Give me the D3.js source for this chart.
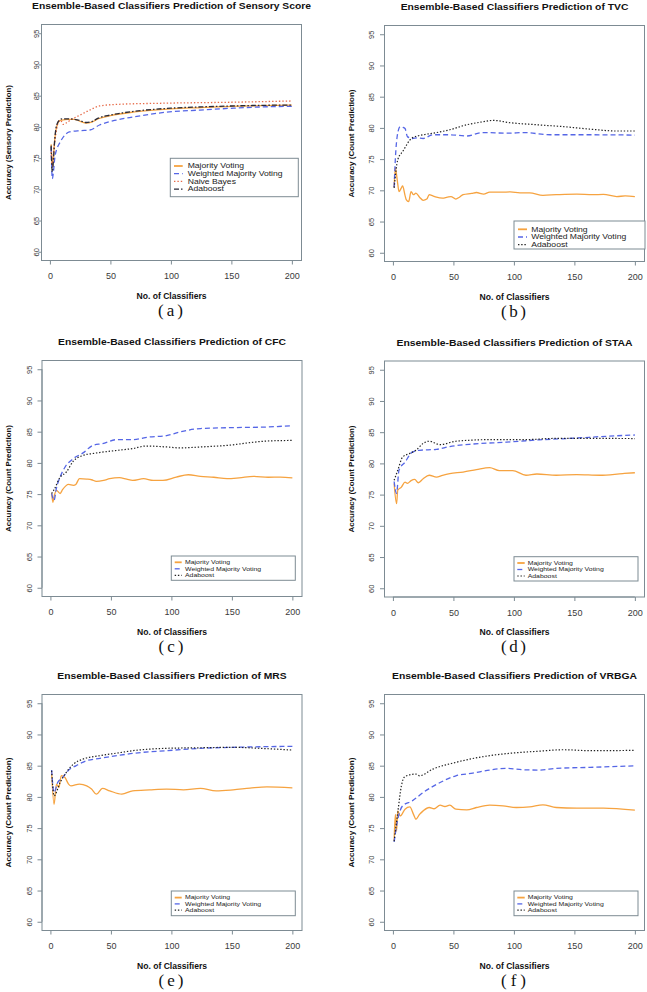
<!DOCTYPE html>
<html><head><meta charset="utf-8">
<script src="https://cdn.jsdelivr.net/npm/d3@7"></script>
<style>body{margin:0;background:#fff}svg{display:block}</style>
</head><body>
<svg id="c" width="647" height="992"></svg>
<script>
// ---------- data ----------
const xTicks = [0, 50, 100, 150, 200];
const yTicks = [60, 65, 70, 75, 80, 85, 90, 95];
const xRange = [1, 200];
const yRange = [60, 95];

const titles = [
  "Ensemble-Based Classifiers Prediction of Sensory Score",
  "Ensemble-Based Classifiers Prediction of TVC",
  "Ensemble-Based Classifiers Prediction of CFC",
  "Ensemble-Based Classifiers Prediction of STAA",
  "Ensemble-Based Classifiers Prediction of MRS",
  "Ensemble-Based Classifiers Prediction of VRBGA"
];
const yLabels = [
  "Accuracy (Sensory Prediction)", "Accuracy (Count Prediction)", "Accuracy (Count Prediction)",
  "Accuracy (Count Prediction)", "Accuracy (Count Prediction)", "Accuracy (Count Prediction)"
];
const xLabel = "No. of Classifiers";
const captions = ["(a)", "(b)", "(c)", "(d)", "(e)", "(f)"];
const legend4 = ["Majority Voting", "Weighted Majority Voting", "Naive Bayes", "Adaboost"];
const legend3 = ["Majority Voting", "Weighted Majority Voting", "Adaboost"];

// (a) Sensory Score
const a_MV  = [[1,77.2],[2,73.5],[3,75.5],[4,78],[5,79.5],[6,80.3],[8,81],[10,81.1],[15,81.2],[20,81.2],[25,80.9],[30,80.6],[35,80.8],[40,81.3],[50,81.8],[70,82.4],[100,82.9],[125,83.1],[150,83.3],[175,83.4],[200,83.5]];
const a_WMV = [[1,76.8],[2,71.7],[3,73],[4,75],[6,76.6],[8,77.4],[12,78.6],[16,79.2],[25,79.4],[33,79.5],[41,80.3],[55,81.1],[69,81.6],[96,82.35],[124,82.7],[152,83.0],[175,83.2],[200,83.3]];
const a_NB  = [[1,76],[2,73.8],[3,76],[5,79],[7,80.8],[9,81],[11,80.4],[14,80.7],[17,81.1],[25,81.9],[33,82.7],[41,83.35],[55,83.6],[96,83.8],[150,83.95],[200,84.15]];
const a_AB  = [[1,77.0],[2,72.8],[3,75],[4,78],[5,79.8],[6,80.5],[8,81.1],[10,81.3],[15,81.3],[20,81.2],[25,81.0],[30,80.7],[35,80.9],[40,81.4],[50,81.9],[70,82.5],[100,83.0],[125,83.2],[150,83.35],[175,83.45],[200,83.5]];
// (b) TVC
const b_MV  = [[1,70.5],[2,73.6],[3,72.5],[4,71],[5,69.8],[7,70.4],[8,70.7],[10,69.2],[11,68.5],[13,68.2],[15,69.8],[17,69.3],[19,69.55],[22,68.9],[25,68.4],[28,68.6],[30,69.3],[33,69.1],[36,68.9],[41,68.75],[45,68.9],[48,69.0],[52,68.6],[55,68.9],[58,69.3],[65,69.5],[69,69.65],[75,69.4],[80,69.7],[90,69.7],[97,69.75],[105,69.6],[113,69.6],[124,69.2],[135,69.3],[152,69.4],[165,69.3],[174,69.35],[185,69.0],[192,69.1],[200,69.0]];
const b_WMV = [[1,70.5],[2,75],[4,79.2],[6,80.2],[8,80.1],[10,79.9],[12,78.6],[16,78.3],[20,78.4],[25,78.3],[33,78.9],[47,78.9],[61,78.7],[74,79.25],[96,79.15],[108,79.25],[130,78.9],[163,78.9],[200,78.85]];
const b_AB  = [[1,70.4],[4,74.9],[8,76.2],[16,78.4],[25,78.9],[33,79.15],[47,79.7],[61,80.5],[72,80.9],[83,81.2],[96,80.85],[119,80.5],[141,80.2],[163,79.8],[185,79.5],[200,79.5]];
// (c) CFC
const c_MV  = [[1,75.1],[2,73.7],[3,74.6],[5,75.6],[8,75.1],[10,75.7],[15,76.55],[19,76.4],[21,76.55],[24,77.47],[30,77.4],[34,77.3],[38,77.04],[44,77.2],[49,77.47],[57,77.63],[63,77.4],[68,77.2],[77,77.47],[85,77.2],[93,77.2],[104,77.73],[114,78.1],[124,77.85],[135,77.7],[146,77.47],[156,77.6],[168,77.85],[180,77.7],[190,77.73],[200,77.6]];
const c_WMV = [[1,75.07],[3,74.0],[5,76],[8,77.73],[12,79.3],[19,80.7],[27,81.6],[35,82.8],[43,83.1],[55,83.73],[68,83.73],[82,84.15],[96,84.37],[107,84.95],[124,85.5],[151,85.65],[179,85.75],[200,85.97]];
const c_AB  = [[1,75.1],[3,75.7],[8,77.7],[13,78.5],[19,80.3],[27,81.2],[35,81.5],[55,82.0],[68,82.3],[79,82.7],[96,82.55],[107,82.4],[124,82.55],[151,82.9],[165,83.25],[179,83.5],[200,83.6]];
// (d) STAA
const d_MV  = [[1,76.8],[3,73.55],[4,75.7],[7,76.2],[10,77.0],[12,76.8],[15,77.25],[18,77.45],[21,76.9],[25,77.55],[30,78.1],[36,77.8],[41,78.1],[47,78.37],[58,78.6],[69,79.0],[80,79.33],[88,78.85],[99,78.85],[110,78.1],[119,78.3],[135,78.1],[152,78.2],[171,78.1],[190,78.37],[200,78.5]];
const d_WMV = [[1,77.1],[3,75.2],[5,78.9],[10,80.2],[16,81.8],[22,82.1],[36,82.25],[47,82.7],[66,83.1],[94,83.4],[121,83.77],[149,84.03],[177,84.35],[200,84.55]];
const d_AB  = [[1,77.3],[4,78.9],[8,81.0],[14,81.6],[19,82.1],[25,83.2],[30,83.55],[39,83.0],[52,83.55],[80,83.8],[108,83.8],[135,84.0],[163,84.0],[200,83.98]];
// (e) MRS
const e_MV  = [[1,83.9],[3,78.8],[5,82.05],[7,81.5],[9,83.4],[12,83.1],[15,82.05],[17,81.77],[24,82.05],[30,81.77],[34,81.25],[38,80.44],[43,81.36],[49,80.97],[59,80.44],[68,80.97],[82,81.13],[96,81.25],[110,81.13],[124,81.36],[137,80.97],[151,81.13],[165,81.4],[179,81.6],[200,81.45]];
const e_WMV = [[1,84.3],[3,80.7],[6,82.3],[10,83.1],[16,84.45],[21,84.98],[30,85.8],[41,86.17],[55,86.6],[68,86.97],[96,87.4],[124,87.78],[151,87.94],[200,88.1]];
const e_AB  = [[1,84.2],[3,80.17],[8,82.3],[13,83.9],[19,85.25],[27,86.06],[41,86.6],[55,87.02],[68,87.4],[96,87.78],[124,87.87],[151,87.94],[173,87.78],[200,87.5]];
// (f) VRBGA
const f_MV  = [[1,73],[2,77.2],[3,74.5],[4,77.76],[6,76.95],[10,78.03],[14,78.4],[17,77.2],[19,76.42],[22,77.2],[25,77.76],[30,78.3],[34,78.1],[39,78.67],[43,78.46],[47,78.67],[52,78.03],[61,77.92],[69,78.3],[80,78.67],[91,78.56],[102,78.3],[113,78.4],[124,78.73],[135,78.3],[152,78.2],[174,78.2],[200,77.87]];
const f_WMV = [[1,72.8],[4,76.4],[8,78.56],[16,79.36],[25,80.7],[39,82.3],[52,83.38],[66,83.8],[80,84.3],[94,84.57],[108,84.34],[121,84.3],[135,84.57],[163,84.73],[200,84.98]];
const f_AB  = [[1,72.9],[4,77.5],[7,81.77],[10,83.28],[19,83.65],[22,83.38],[33,84.45],[52,85.53],[74,86.43],[96,86.97],[119,87.3],[141,87.55],[163,87.4],[200,87.45]];

// ---------- styles ----------
const styles = {
  MV:  {color:"#f6a340", dash:null, w:1.3},
  WMV: {color:"#5566e6", dash:"5,3", w:1.3},
  NB:  {color:"#e66a48", dash:"1.4,2", w:1.3},
  AB:  {color:"#222222", dash:"1.4,1.8", w:1.2},
  AB4: {color:"#2a2a38", dash:"5,2,1.5,2", w:1.3}
};

const panels = [
  {left:41.5, top:24.5, ytOff:3, tk:3, tLen:279, yLen:115, series:[["MV",a_MV],["WMV",a_WMV],["NB",a_NB],["AB4",a_AB]], labels:legend4,
   leg:{dx:128.8, dy:133.8, w:128, h:38.4, r0:7.7, step:7.7, s0:3.7, s1:12.4, tx:17.4, fs:8.6}},
  {left:384.5, top:25.5, ytOff:10.5, tk:4.5, tLen:227.7, yLen:108, series:[["MV",b_MV],["WMV",b_WMV],["AB",b_AB]], labels:legend3,
   leg:{dx:129.5, dy:195.5, w:131, h:28, r0:8.3, step:7.7, s0:4, s1:13, tx:17.3, fs:8.6}},
  {left:42, top:360.5, ytOff:10.5, tk:4.5, tLen:228, yLen:107, series:[["MV",c_MV],["WMV",c_WMV],["AB",c_AB]], labels:legend3,
   leg:{dx:129.3, dy:195.5, w:124, h:24.3, r0:6.3, step:6.5, s0:3.4, s1:10.4, tx:13.7, fs:6.9}},
  {left:384.5, top:361, ytOff:10.5, tk:4.5, tLen:236, yLen:107, series:[["MV",d_MV],["WMV",d_WMV],["AB",d_AB]], labels:legend3,
   leg:{dx:129.5, dy:195.7, w:124, h:24.3, r0:6.3, step:6.5, s0:3.3, s1:10.7, tx:13.7, fs:6.9}},
  {left:42, top:694.5, ytOff:10.5, tk:4.5, tLen:229.3, yLen:110, series:[["MV",e_MV],["WMV",e_WMV],["AB",e_AB]], labels:legend3,
   leg:{dx:129.3, dy:196.5, w:124, h:24.7, r0:6.6, step:6.3, s0:3.4, s1:10.4, tx:13.7, fs:6.9}},
  {left:384.5, top:694.5, ytOff:10.5, tk:4.5, tLen:245, yLen:110, series:[["MV",f_MV],["WMV",f_WMV],["AB",f_AB]], labels:legend3,
   leg:{dx:129.5, dy:196.5, w:124, h:24.7, r0:6.6, step:6.3, s0:3.3, s1:10.7, tx:13.7, fs:6.9}}
];

const boxW = 260, boxH = 236;
const frameCol = "#7d8b93";
const sans = "'Liberation Sans', Arial, Helvetica, sans-serif";
const serif = "'Liberation Serif', 'Times New Roman', serif";
const svg = d3.select("#c");
svg.append("rect").attr("width",647).attr("height",992).attr("fill","#fff");

const pad = (r) => { const d = (r[1]-r[0])*0.04; return [r[0]-d, r[1]+d]; };

panels.forEach((p, i) => {
  const x = d3.scaleLinear().domain(pad(xRange)).range([p.left, p.left + boxW]);
  const y = d3.scaleLinear().domain(pad(yRange)).range([p.top + boxH, p.top]);
  const g = svg.append("g");
  const bottom = p.top + boxH, cx = p.left + boxW/2;

  // lines
  const line = d3.line().x(d => x(d[0])).y(d => y(d[1])).curve(d3.curveMonotoneX);
  p.series.forEach(([k, data]) => {
    const s = styles[k];
    g.append("path").attr("d", line(data)).attr("fill","none")
      .attr("stroke", s.color).attr("stroke-width", s.w)
      .attr("stroke-dasharray", s.dash).attr("stroke-linejoin","round");
  });

  // frame
  g.append("rect").attr("x",p.left).attr("y",p.top).attr("width",boxW).attr("height",boxH)
    .attr("fill","none").attr("stroke",frameCol).attr("stroke-width",1);

  // x axis
  const xa = g.append("g").attr("transform",`translate(0,${bottom})`)
    .call(d3.axisBottom(x).tickValues(xTicks).tickSize(4).tickPadding(6).tickFormat(d3.format("d")));
  xa.select(".domain").attr("stroke",frameCol).attr("d",`M${x(xTicks[0])},0H${x(xTicks[xTicks.length-1])}`);
  xa.selectAll(".tick line").attr("stroke",frameCol);
  xa.selectAll(".tick text").attr("font-family",sans).attr("font-size",9).attr("fill","#3a3a3a")
    .attr("dy",null).attr("y",18.6);

  // y axis
  const ya = g.append("g").attr("transform",`translate(${p.left},0)`)
    .call(d3.axisLeft(y).tickValues(yTicks).tickSize(p.tk).tickFormat(d3.format("d")));
  ya.select(".domain").attr("stroke",frameCol).attr("d",`M0,${y(yTicks[0])}V${y(yTicks[yTicks.length-1])}`);
  ya.selectAll(".tick line").attr("stroke",frameCol);
  ya.selectAll(".tick text").attr("font-family",sans).attr("font-size",7.5).attr("fill","#3a3a3a")
    .attr("x",null).attr("dy",null).attr("text-anchor","middle")
    .attr("transform",`translate(${-p.ytOff},0) rotate(-90)`);

  // title
  g.append("text").attr("x",cx).attr("y",p.top-15.5).attr("text-anchor","middle")
    .attr("font-family",sans).attr("font-weight","bold").attr("font-size",9.3).attr("fill","#111")
    .attr("textLength",p.tLen).attr("lengthAdjust","spacingAndGlyphs").text(titles[i]);
  // y label
  g.append("text").attr("transform",`translate(${p.left-31},${p.top+boxH/2}) rotate(-90)`)
    .attr("text-anchor","middle").attr("font-family",sans).attr("font-weight","bold")
    .attr("font-size",8).attr("fill","#111").attr("textLength",p.yLen).attr("lengthAdjust","spacingAndGlyphs")
    .text(yLabels[i]);
  // x label
  g.append("text").attr("x",cx).attr("y",bottom+38).attr("text-anchor","middle")
    .attr("font-family",sans).attr("font-weight","bold").attr("font-size",8.3).attr("fill","#111")
    .attr("textLength",70).attr("lengthAdjust","spacingAndGlyphs").text(xLabel);
  // caption
  g.append("text").attr("x",cx - 1).attr("y",bottom+55).attr("text-anchor","middle")
    .attr("font-family",serif).attr("font-size",17).attr("fill","#111")
    .attr("textLength",25).attr("lengthAdjust","spacing").text(captions[i]);

  // legend
  const L = p.leg, lx = p.left + L.dx, ly = p.top + L.dy;
  const lg = g.append("g");
  lg.append("rect").attr("x",lx).attr("y",ly).attr("width",L.w).attr("height",L.h)
    .attr("fill","#fff").attr("stroke",frameCol).attr("stroke-width",1);
  const smallFs = L.step / 1.2;
  p.series.forEach(([k], j) => {
    const s = styles[k], ry = ly + L.r0 + j*L.step;
    lg.append("line").attr("x1",lx+L.s0).attr("x2",lx+L.s1).attr("y1",ry).attr("y2",ry)
      .attr("stroke",s.color).attr("stroke-width",k==="MV" ? 1.8 : s.w).attr("stroke-dasharray",s.dash);
    const t = lg.append("text").attr("x",lx+L.tx).attr("y",ry + smallFs*0.36)
      .attr("font-family",sans).attr("font-size",L.fs).attr("fill","#222").text(p.labels[j]);
    const wid = t.node().getComputedTextLength();
    t.attr("font-size",smallFs).attr("textLength",wid).attr("lengthAdjust","spacingAndGlyphs");
  });
});
</script>
</body></html>
